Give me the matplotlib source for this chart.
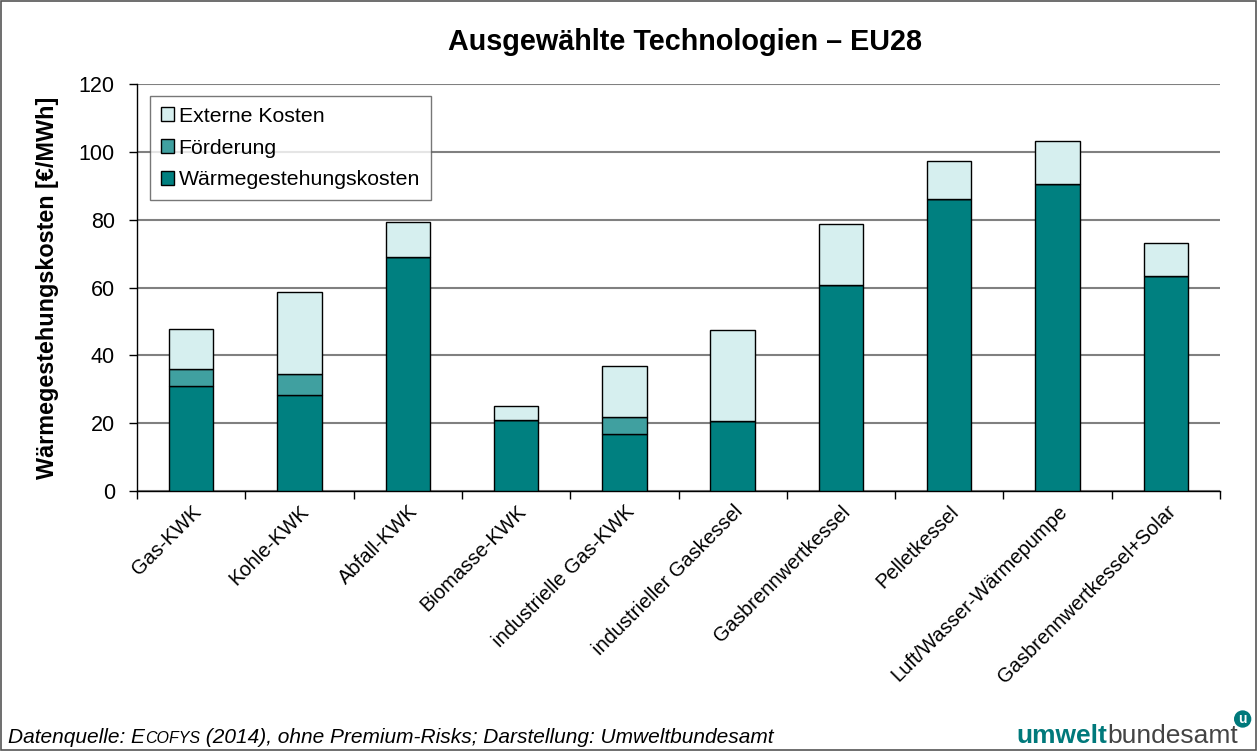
import matplotlib
matplotlib.use("Agg")
import matplotlib.pyplot as plt
import numpy as np
from matplotlib.patches import Rectangle

plt.rcParams['font.family'] = ['Liberation Sans', 'DejaVu Sans']

categories = ["Gas-KWK", "Kohle-KWK", "Abfall-KWK", "Biomasse-KWK",
              "industrielle Gas-KWK", "industrieller Gaskessel",
              "Gasbrennwertkessel", "Pelletkessel", "Luft/Wasser-Wärmepumpe",
              "Gasbrennwertkessel+Solar"]
waermegestehungskosten = [31.0, 28.4, 69.1, 21.0, 16.7, 20.6, 60.7, 86.1, 90.6, 63.4]
foerderung = [5.1, 6.1, 0.0, 0.0, 5.1, 0.0, 0.0, 0.0, 0.0, 0.0]
externe_kosten = [11.7, 24.1, 10.3, 4.2, 15.2, 27.0, 17.9, 11.2, 12.5, 9.7]
yticks = [0, 20, 40, 60, 80, 100, 120]

c_base = "#008080"
c_foerd = "#40A0A0"
c_ext = "#D6EFEF"

W, H = 1257, 751
fig = plt.figure(figsize=(W / 100, H / 100), dpi=100)
fig.patches.append(Rectangle((0.0005, 0.001), 0.999, 0.998, transform=fig.transFigure,
                             fill=False, edgecolor="#555555", linewidth=1.2))

ax = fig.add_axes([137 / W, 1 - 491 / H, (1220 - 137) / W, (491 - 84) / H])
x = np.arange(len(categories))
base = np.array(waermegestehungskosten)
fo = np.array(foerderung)
ex = np.array(externe_kosten)
bw = 0.41
b1 = ax.bar(x, base, bw, color=c_base, edgecolor="black", linewidth=1.0,
            label="Wärmegestehungskosten", zorder=3)
b2 = ax.bar(x, fo, bw, bottom=base, color=c_foerd, edgecolor="black", linewidth=1.0,
            label="Förderung", zorder=3)
b3 = ax.bar(x, ex, bw, bottom=base + fo, color=c_ext, edgecolor="black", linewidth=1.0,
            label="Externe Kosten", zorder=3)

ax.set_xlim(-0.5, len(categories) - 0.5)
ax.set_ylim(0, 120)
ax.set_yticks(yticks)
ax.tick_params(axis='y', labelsize=15.5, length=6, direction='out', width=1, pad=10)
ax.yaxis.grid(True, color="#808080", linewidth=1.5, zorder=0)
ax.set_axisbelow(True)
ax.spines['top'].set_visible(False)
ax.spines['right'].set_visible(False)
ax.spines['left'].set_linewidth(1.0)
ax.spines['bottom'].set_linewidth(1.0)

ax.set_xticks(x)
ax.set_xticklabels(categories, rotation=45, ha='right', rotation_mode='anchor', fontsize=14.5)
ax.tick_params(axis='x', which='major', length=0, pad=8)
ax.set_xticks(np.arange(-0.5, len(categories) + 0.5, 1), minor=True)
ax.tick_params(axis='x', which='minor', length=6, width=1, direction='out')

ax.set_ylabel("Wärmegestehungskosten [€/MWh]", fontsize=16.8, fontweight='bold', labelpad=14)

leg = ax.legend(handles=[b3, b2, b1], loc='upper left', bbox_to_anchor=(0.012, 0.97),
                fontsize=15.3, frameon=True, fancybox=False, edgecolor="#555555",
                handlelength=0.65, handleheight=0.65, handletextpad=0.2,
                labelspacing=0.6, borderpad=0.5, borderaxespad=0)
leg.get_frame().set_linewidth(1.0)

fig.text(685 / W, 1 - 42 / H, "Ausgewählte Technologien – EU28", ha='center', va='center',
         fontsize=20.7, fontweight='bold')

# footer with small caps imitation
fy = 1 - 743 / H
t1 = fig.text(8 / W, fy, "Datenquelle: E", fontsize=15, style='italic',
              ha='left', va='baseline')
fig.canvas.draw()
r = fig.canvas.get_renderer()
bb = t1.get_window_extent(r)
t2 = fig.text(bb.x1 / W, fy, "COFYS", fontsize=11.5, style='italic',
              ha='left', va='baseline')
bb2 = t2.get_window_extent(r)
fig.text(bb2.x1 / W, fy, " (2014), ohne Premium-Risks; Darstellung: Umweltbundesamt",
         fontsize=15, style='italic', ha='left', va='baseline')

# logo text
l1 = fig.text(1016 / W, fy, "umwelt", fontsize=19, fontweight='bold',
              color="#00797B", ha='left', va='baseline')
bl = l1.get_window_extent(r)
l2 = fig.text(bl.x1 / W, fy, "bundesamt", fontsize=19, color="#444444",
              ha='left', va='baseline')
bl2 = l2.get_window_extent(r)
fig.text(bl2.x1 / W + 0.004, 1 - 719 / H, "u", fontsize=10, color="white",
         ha='center', va='center', fontweight='bold',
         bbox=dict(boxstyle='circle,pad=0.12', fc="#00797B", ec="none"))

fig.savefig("out.png", dpi=100)
